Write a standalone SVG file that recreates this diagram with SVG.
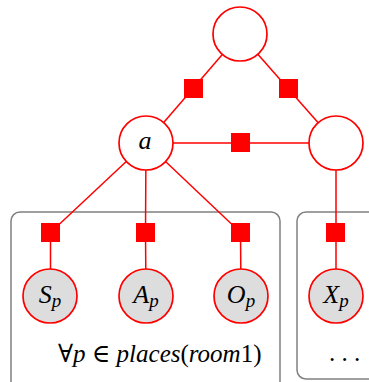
<svg xmlns="http://www.w3.org/2000/svg" width="369" height="382" viewBox="0 0 369 382">
<style>
.plate{fill:none;stroke:#808080;stroke-width:1.5}
.edge{stroke:#ff0000;stroke-width:1.5;fill:none}
.fac{fill:#ff0000}
.var{fill:#ffffff;stroke:#ff0000;stroke-width:1.7}
.obs{fill:#dddddd;stroke:#ff0000;stroke-width:1.7}
.lbl{font-family:"Liberation Serif","DejaVu Serif",serif;font-style:italic;font-size:26px;fill:#000;text-anchor:middle}
.sub{font-size:19px}
.cap{font-family:"Liberation Serif","DejaVu Serif",serif;font-size:25px;fill:#000}
</style>
<rect id="plate1" class="plate" x="11" y="212" width="269" height="185" rx="9"/>
<rect id="plate2" class="plate" x="297" y="212" width="90" height="167" rx="9"/>
<g id="connectors">
<line class="edge" x1="240" y1="34" x2="146" y2="143"/>
<line class="edge" x1="240" y1="34" x2="336" y2="143"/>
<line class="edge" x1="146" y1="143" x2="336" y2="143"/>
<polyline class="edge" points="146,143 50.5,232.5 50.5,296"/>
<polyline class="edge" points="146,143 145.5,232.5 146,296"/>
<polyline class="edge" points="146,143 240.5,232.5 241,296"/>
<line class="edge" x1="336" y1="143" x2="336" y2="296"/>
</g>
<g id="factors">
<rect id="f1" class="fac" x="184" y="79" width="19" height="19"/>
<rect id="f2" class="fac" x="279" y="79" width="19" height="19"/>
<rect id="f3" class="fac" x="231" y="133" width="19" height="19"/>
<rect id="f4" class="fac" x="41" y="223" width="19" height="19"/>
<rect id="f5" class="fac" x="136" y="223" width="19" height="19"/>
<rect id="f6" class="fac" x="231" y="223" width="19" height="19"/>
<rect id="f7" class="fac" x="326" y="223" width="19" height="19"/>
</g>
<g id="top"><circle class="var" cx="240" cy="34" r="27"/></g>
<g id="a"><circle class="var" cx="146" cy="143" r="27"/><text class="lbl" x="145" y="149">a</text></g>
<g id="right"><circle class="var" cx="336" cy="143" r="27"/></g>
<g id="Sp"><circle class="obs" cx="50" cy="296" r="27"/><text class="lbl" x="50" y="303">S<tspan class="sub" dy="4">p</tspan></text></g>
<g id="Ap"><circle class="obs" cx="146" cy="296" r="27"/><text class="lbl" x="146" y="303">A<tspan class="sub" dy="4">p</tspan></text></g>
<g id="Op"><circle class="obs" cx="241" cy="296" r="27"/><text class="lbl" x="241" y="303">O<tspan class="sub" dy="4">p</tspan></text></g>
<g id="Xp"><circle class="obs" cx="336" cy="296" r="27"/><text class="lbl" x="336" y="303">X<tspan class="sub" dy="4">p</tspan></text></g>
<text class="cap" x="58" y="362">∀<tspan font-style="italic">p</tspan> ∈ <tspan font-style="italic">places</tspan>(<tspan font-style="italic">room</tspan>1)</text>
<text class="cap" x="329" y="361" font-size="22">. . .</text>
</svg>
